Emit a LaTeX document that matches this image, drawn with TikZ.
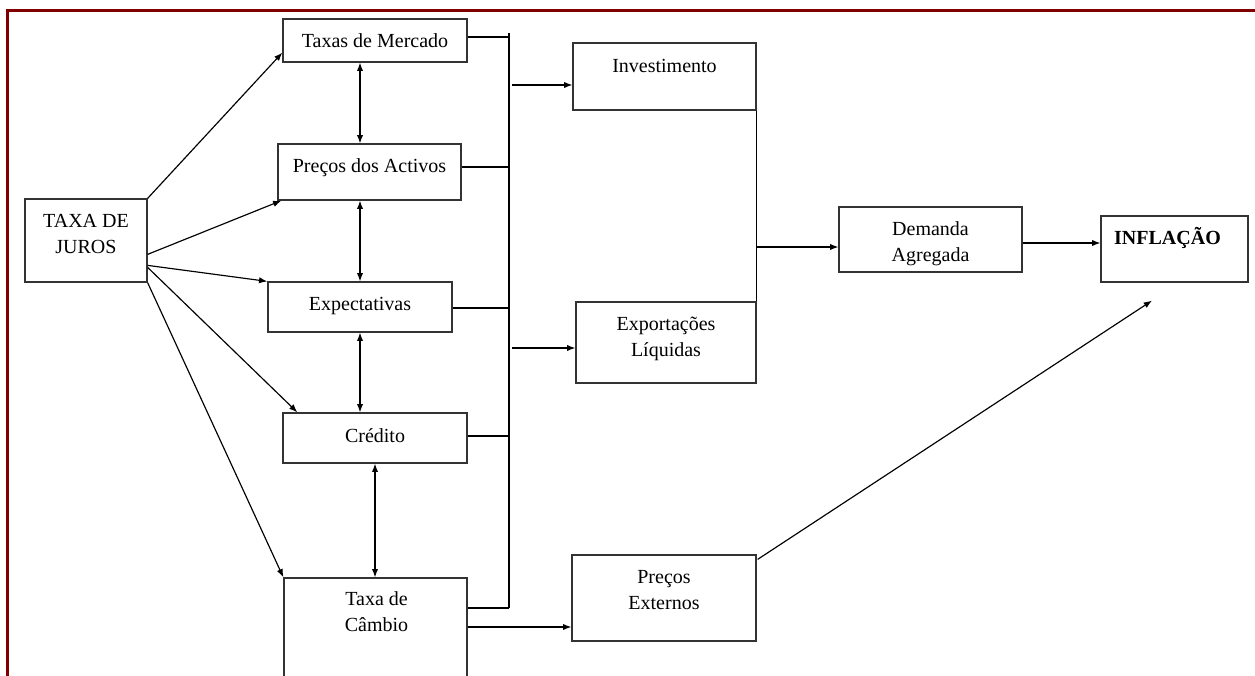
\documentclass[tikz,border=0pt]{standalone}
\usepackage{fontspec}
\setmainfont{Liberation Serif}
\usetikzlibrary{arrows.meta,calc}
\definecolor{framered}{RGB}{128,0,0}
\def\pxu{0.6pt}

\begin{document}
\begin{tikzpicture}[x=0.6pt,y=-0.6pt,
  box/.style={draw=black!80,line width=0.75pt,inner sep=0pt},
  sz/.style 2 args={minimum width=#1*\pxu,minimum height=#2*\pxu},
  txt/.style={inner sep=0pt,align=center,font=\fontsize{12}{15.5}\selectfont},
  conn/.style={black,line width=0.7pt},
  arr/.style={conn,-{Latex[length=5pt,width=3.8pt]}},
  dbl/.style={conn,{Latex[length=5pt,width=3.8pt]}-{Latex[length=5pt,width=3.8pt]}},
  redframe/.style={draw=framered,line width=1.8pt}]
\useasboundingbox (0,0) rectangle (1255,675);
\clip (0,0) rectangle (1255,675);
% frame
\draw[redframe] (7.5,700) -- (7.5,11) -- (1280,11);
% boxes
\node[box,sz={122}{83}] (juros) at (86,240.5) {};
\node[box,sz={184}{43}] (merc) at (375,40.5) {};
\node[box,sz={183}{56}] (ativ) at (369.5,172) {};
\node[box,sz={184}{50}] (expe) at (360,307) {};
\node[box,sz={184}{50}] (cred) at (375,438) {};
\node[box,sz={183}{124}] (camb) at (375.5,640) {};
\node[box,sz={183}{67}] (inv) at (664.5,76.5) {};
\node[box,sz={180}{81}] (expo) at (666,342.5) {};
\node[box,sz={183}{65}] (dem) at (930.5,239.5) {};
\node[box,sz={147}{66}] (infl) at (1174.5,249) {};
\node[box,sz={184}{86}] (pext) at (664,598) {};
% texts
\node[txt,anchor=north] (jurosT) at (86,213.8) {TAXA DE\\JUROS};
\node[txt,anchor=base] (mercT) at (375,47.7) {Taxas de Mercado};
\node[txt,anchor=base] (ativT) at (369.5,172.7) {Preços dos Activos};
\node[txt,anchor=base] (expeT) at (360,310) {Expectativas};
\node[txt,anchor=base] (credT) at (375,442) {Crédito};
\node[txt,anchor=north] (cambT) at (376.5,591.3) {Taxa de\\Câmbio};
\node[txt,anchor=base] (invT) at (664.5,72.3) {Investimento};
\node[txt,anchor=north] (expoT) at (666,316.5) {Exportações\\Líquidas};
\node[txt,anchor=north] (demT) at (930.5,221.3) {Demanda\\Agregada};
\node[txt,anchor=base,font=\fontsize{12}{15.5}\selectfont\bfseries] (inflT) at (1167.5,244.3) {INFLAÇÃO};
\node[txt,anchor=north] (pextT) at (664,570.1) {Preços\\Externos};
% from the interest rate
\draw[arr] (juros.north east) -- ($(merc.south west)+(0,-10)$);
\draw[arr] ($(juros.north east)+(0,56)$) -- ($(ativ.south west)+(4,0)$);
\draw[arr] ($(juros.north east)+(0,67)$) -- (expe.north west);
\draw[arr] ($(juros.north east)+(0,69)$) -- ($(cred.north west)+(15,0)$);
\draw[arr] (juros.south east) -- (camb.north west);
% links between channels
\draw[dbl] (expe.north |- merc.south) -- (expe.north |- ativ.north);
\draw[dbl] (expe.north |- ativ.south) -- (expe.north);
\draw[dbl] (expe.south) -- (expe.south |- cred.north);
\draw[dbl] (cred.south) -- (cred.south |- camb.north);
% collecting line
\coordinate (bt) at (509,33);
\coordinate (bb) at (509,608);
\draw[conn] (bt) -- (bb);
\draw[conn] (merc.east) ++(0,-3.5) coordinate (pm) -- (pm -| bt);
\draw[conn] (ativ.east) ++(0,-5) coordinate (pa) -- (pa -| bt);
\draw[conn] (expe.east) ++(0,1) coordinate (pe) -- (pe -| bt);
\draw[conn] (cred.east) ++(0,-2) coordinate (pr) -- (pr -| bt);
\draw[conn] (bb) -- (bb -| camb.east);
\draw[arr] (inv.west) ++(0,8.5) coordinate (pi) ([xshift=1.8pt]pi -| bt) -- (pi);
\draw[arr] (expo.west) ++(0,5.5) coordinate (px) ([xshift=1.8pt]px -| bt) -- (px);
% demand side
\draw[conn] (inv.south east) -- (expo.north east);
\draw[arr] (dem.west) ++(0,7.5) coordinate (pd) (pd -| inv.east) -- (pd);
\draw[arr] (dem.east) ++(0,3.5) coordinate (pq) -- (pq -| infl.west);
% exchange rate and external prices
\draw[arr] (pext.west) ++(0,29) coordinate (pc) (pc -| camb.east) -- (pc);
\coordinate (inflin) at ($(infl.south)+(-22.5,18)$);
\draw[arr] ($(pext.north east)+(1,5)$) -- (inflin);
\end{tikzpicture}
\end{document}
